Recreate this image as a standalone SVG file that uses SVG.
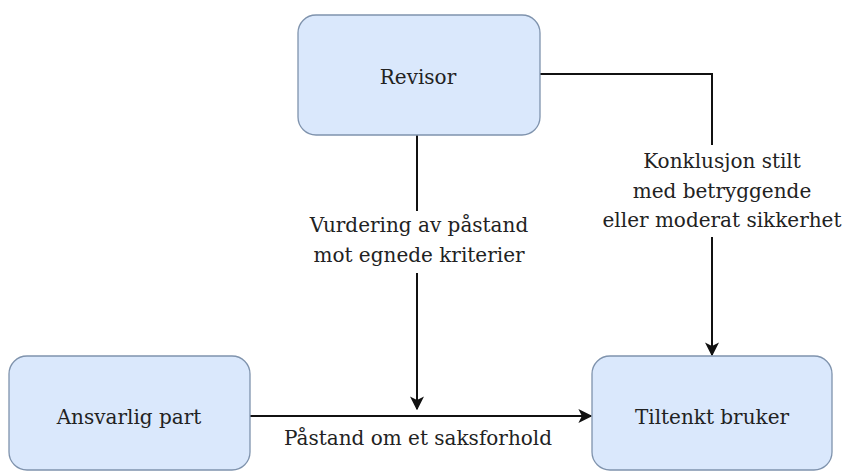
<svg xmlns="http://www.w3.org/2000/svg" width="843" height="474" viewBox="0 0 843 474">
  <style>
    .box { fill: #dae8fc; stroke: #7f93ad; stroke-width: 1.3; }
    .lbl { font-family: 'DejaVu Serif', serif; font-size: 20px; fill: #222; text-anchor: middle; }
    .edge { fill: none; stroke: #111; stroke-width: 2; }
    .bg { fill: #ffffff; }
  </style>
  <defs>
    <!-- classic notched arrowhead shared by all connectors -->
    <marker id="arrow" viewBox="0 0 10 10" refX="9" refY="5" markerWidth="7" markerHeight="7" orient="auto" markerUnits="strokeWidth">
      <path d="M0,0 L10,5 L0,10 L2.5,5 Z" fill="#111"/>
    </marker>
  </defs>
  <rect width="843" height="474" fill="#ffffff"/>

  <g id="connectors">
    <path class="edge" d="M417,135 V409" marker-end="url(#arrow)"/>
    <path class="edge" d="M540,74 H712 V355" marker-end="url(#arrow)"/>
    <path class="edge" d="M250,416 H591" marker-end="url(#arrow)"/>
    <rect class="bg" x="305" y="211" width="226" height="62"/>
    <text class="lbl" x="419" y="232">Vurdering av påstand</text>
    <text class="lbl" x="419" y="262">mot egnede kriterier</text>
    <rect class="bg" x="598" y="145" width="245" height="92"/>
    <text class="lbl" x="722" y="168">Konklusjon stilt</text>
    <text class="lbl" x="722" y="198">med betryggende</text>
    <text class="lbl" x="722" y="227">eller moderat sikkerhet</text>
    <text class="lbl" x="418" y="445">Påstand om et saksforhold</text>
  </g>

  <g id="revisor">
    <rect class="box" x="298" y="15" width="242" height="120" rx="18"/>
    <text class="lbl" x="418" y="84">Revisor</text>
  </g>
  <g id="ansvarlig-part">
    <rect class="box" x="9" y="356" width="241" height="114" rx="18"/>
    <text class="lbl" x="129" y="424">Ansvarlig part</text>
  </g>
  <g id="tiltenkt-bruker">
    <rect class="box" x="592" y="356" width="240" height="114" rx="18"/>
    <text class="lbl" x="712" y="424">Tiltenkt bruker</text>
  </g>
</svg>
